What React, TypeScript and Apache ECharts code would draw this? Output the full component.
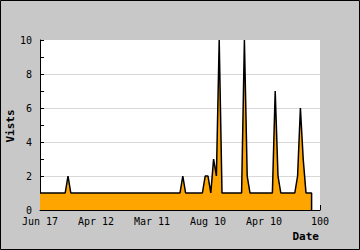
import React, { useEffect, useRef } from "react";
import * as echarts from "echarts";

const visits: number[] = [
  1, 1, 1, 1, 1, 1, 1, 1, 1, 1,
  2, 1, 1, 1, 1, 1, 1, 1, 1, 1,
  1, 1, 1, 1, 1, 1, 1, 1, 1, 1,
  1, 1, 1, 1, 1, 1, 1, 1, 1, 1,
  1, 1, 1, 1, 1, 1, 1, 1, 1, 1,
  1, 2, 1, 1, 1, 1, 1, 1, 1, 2,
  2, 1, 3, 2, 10, 1, 1, 1, 1, 1,
  1, 1, 1, 10, 2, 1, 1, 1, 1, 1,
  1, 1, 1, 1, 7, 2, 1, 1, 1, 1,
  1, 1, 2, 6, 3, 1, 1, 1,
];

const xTickLabels: string[] = ["Jun 17", "Apr 12", "Mar 11", "Aug 10", "Apr 10", "100"];
const xTickStep = 20;
const yMax = 10;

export default function App() {
  const ref = useRef<HTMLDivElement>(null);
  useEffect(() => {
    if (!ref.current) return;
    const chart = echarts.init(ref.current, undefined, { renderer: "svg" });
    const data: number[][] = visits.map((v, i) => [i, v]);
    data.push([visits.length - 1, 0]);
    const mono = "DejaVu Sans Mono";
    chart.setOption({
      animation: false,
      backgroundColor: "#c8c8c8",
      grid: { left: 40, right: 40, top: 40, bottom: 40, show: true, backgroundColor: "#ffffff", borderWidth: 0 },
      xAxis: {
        type: "value",
        min: 0,
        max: 100,
        interval: xTickStep,
        axisLine: { show: true, lineStyle: { color: "#000", width: 1 } },
        axisTick: { show: true, inside: true, length: 5, lineStyle: { color: "#000" } },
        splitLine: { show: false },
        axisLabel: {
          color: "#000",
          fontFamily: mono,
          fontSize: 10,
          margin: 6,
          formatter: (v: number) => xTickLabels[Math.round(v / xTickStep)] ?? String(v),
        },
      },
      yAxis: {
        type: "value",
        min: 0,
        max: yMax,
        interval: 2,
        axisLine: { show: true, lineStyle: { color: "#000", width: 1 } },
        axisTick: { show: true, inside: true, length: 4, lineStyle: { color: "#000" } },
        minorTick: { show: true, splitNumber: 2, length: 4, lineStyle: { color: "#000" } },
        splitLine: { show: true, showMinLine: false, showMaxLine: false, lineStyle: { color: "#d8d8d8", width: 1 } },
        axisLabel: { color: "#000", fontFamily: mono, fontSize: 10, margin: 8 },
      },
      series: [
        {
          type: "line",
          data,
          symbol: "none",
          lineStyle: { color: "#000", width: 1.5 },
          areaStyle: { color: "#ffa500", opacity: 1 },
          z: 3,
        },
      ],
      graphic: [
        {
          type: "rect",
          shape: { x: 0.5, y: 0.5, width: 359, height: 249 },
          style: { fill: "none", stroke: "#000", lineWidth: 1 },
          z: 10,
        },
        {
          type: "text",
          x: 319,
          y: 236,
          style: { text: "Date", fill: "#000", font: "bold 11px 'DejaVu Sans Mono'", align: "right", verticalAlign: "middle" },
        },
        {
          type: "text",
          x: 10,
          y: 126,
          rotation: Math.PI / 2,
          style: { text: "Vists", fill: "#000", font: "bold 11px 'DejaVu Sans Mono'", align: "center", verticalAlign: "middle" },
        },
      ],
    });
    return () => chart.dispose();
  }, []);
  return <div ref={ref} style={{ position: "fixed", left: 0, top: 0, width: 360, height: 250 }} />;
}
